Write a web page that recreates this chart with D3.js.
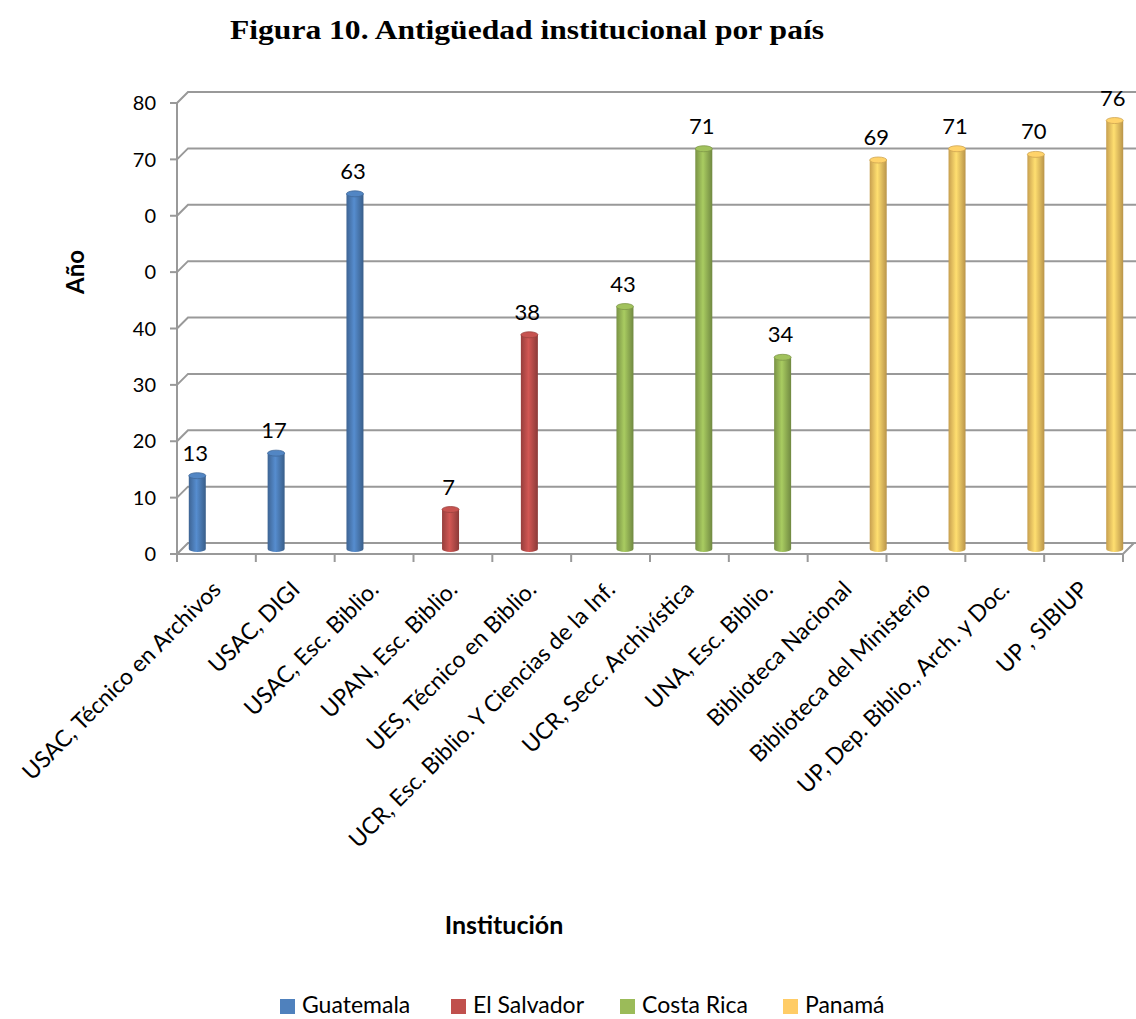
<!DOCTYPE html>
<html>
<head>
<meta charset="utf-8">
<script src="https://cdn.jsdelivr.net/npm/d3@7"></script>
<style>
  body { margin: 0; background: #fff; }
  text { font-family: Lato, "Open Sans", sans-serif; fill: #000; }
</style>
</head>
<body>
<div id="mount"></div>
<script>
'use strict';

// data
const categories = [
  'USAC, Técnico en Archivos', 'USAC, DIGI', 'USAC, Esc. Biblio.',
  'UPAN, Esc. Biblio.', 'UES, Técnico en Biblio.',
  'UCR, Esc. Biblio. Y Ciencias de la Inf.', 'UCR, Secc. Archivística', 'UNA, Esc. Biblio.',
  'Biblioteca Nacional', 'Biblioteca del Ministerio', 'UP, Dep. Biblio., Arch. y Doc.', 'UP , SIBIUP'
];
const series = ['Guatemala', 'El Salvador', 'Costa Rica', 'Panamá'];
const countryOf = [0, 0, 0, 1, 1, 2, 2, 2, 3, 3, 3, 3];
const values = [13, 17, 63, 7, 38, 43, 71, 34, 69, 71, 70, 76];
const yTicks = [0, 10, 20, 30, 40, 50, 60, 70, 80];
const yTickLabels = ['0', '10', '20', '30', '40', '0', '0', '70', '80'];
const colors = ['#4F81BD', '#C0504D', '#9BBB59', '#FFCC66'];

const W = 1136, H = 1019;
const depth = 11; // 3d offset of the back wall

const svg = d3.select('#mount').append('svg')
    .attr('width', W)
    .attr('height', H);

const x = d3.scaleBand().domain(categories).range([177, 1123]);
const sub = d3.scaleBand().domain(series).range([-33.5, 33.5]);
const y = d3.scaleLinear().domain([0, 80]).range([554, 103]);

// gradients for the cylinders
const defs = svg.append('defs');
colors.forEach((c, i) => {
  const g = defs.append('linearGradient').attr('id', 'cyl' + i)
      .attr('x1', 0).attr('x2', 1).attr('y1', 0).attr('y2', 0);
  g.append('stop').attr('offset', '0%').attr('stop-color', d3.color(c).darker(0.7));
  g.append('stop').attr('offset', '45%').attr('stop-color', d3.color(c).brighter(0.25));
  g.append('stop').attr('offset', '100%').attr('stop-color', d3.color(c).darker(0.9));
});

// title
svg.append('text')
    .attr('x', 527).attr('y', 39)
    .attr('text-anchor', 'middle')
    .attr('textLength', 594)
    .attr('lengthAdjust', 'spacingAndGlyphs')
    .style('font-family', '"Liberation Serif", "DejaVu Serif", serif')
    .style('font-weight', 'bold')
    .style('font-size', '27px')
    .text('Figura 10. Antigüedad institucional por país');

// walls and gridlines
const grid = svg.append('g').attr('stroke', '#999').attr('stroke-width', 2).attr('fill', 'none');
grid.selectAll('path.grid')
    .data(yTicks)
  .enter().append('path')
    .attr('class', 'grid')
    .attr('d', d => `M177,${y(d)}L${177 + depth},${y(d) - depth}H${W}`);

grid.append('line')
    .attr('x1', 177).attr('x2', 177)
    .attr('y1', y(80)).attr('y2', y(0));

// floor
grid.append('path')
    .attr('d', `M177,${y(0)}H1123L${1123 + depth},${y(0) - depth}`);

// y ticks
grid.selectAll('line.ytick')
    .data(yTicks)
  .enter().append('line')
    .attr('class', 'ytick')
    .attr('x1', 170).attr('x2', 177)
    .attr('y1', d => y(d)).attr('y2', d => y(d));

svg.selectAll('text.ylab')
    .data(yTicks)
  .enter().append('text')
    .attr('class', 'ylab')
    .attr('x', 156)
    .attr('y', d => y(d))
    .attr('dy', '0.36em')
    .attr('text-anchor', 'end')
    .style('font-size', '20px')
    .text((d, i) => yTickLabels[i]);

// x ticks at band edges
grid.selectAll('line.xtick')
    .data(d3.range(categories.length + 1))
  .enter().append('line')
    .attr('class', 'xtick')
    .attr('x1', i => 177 + i * x.bandwidth())
    .attr('x2', i => 177 + i * x.bandwidth())
    .attr('y1', y(0)).attr('y2', y(0) + 8);

// x labels
svg.selectAll('text.xlab')
    .data(categories)
  .enter().append('text')
    .attr('class', 'xlab')
    .attr('transform', d => `translate(${x(d) + x.bandwidth() / 2 + 6},${y(0) + 37}) rotate(-45)`)
    .attr('text-anchor', 'end')
    .style('font-size', '23px')
    .text(d => d);

// cylinders
const barW = 17, ry = 3;
const bars = categories.map((c, i) => ({
  cat: c, value: values[i], s: countryOf[i],
  cx: x(c) + x.bandwidth() / 2 + sub(series[countryOf[i]]) + sub.bandwidth() / 2 + 6
}));
const base = y(0) - 5;
const yBar = v => y(v) - 5;

const cyl = svg.selectAll('g.cyl')
    .data(bars)
  .enter().append('g')
    .attr('class', 'cyl');

cyl.append('path')
    .attr('d', d => `M${d.cx - barW / 2},${yBar(d.value)}V${base}` +
      `A${barW / 2},${ry} 0 0 0 ${d.cx + barW / 2},${base}V${yBar(d.value)}Z`)
    .attr('fill', d => `url(#cyl${d.s})`);

cyl.append('ellipse')
    .attr('cx', d => d.cx)
    .attr('cy', d => yBar(d.value))
    .attr('rx', barW / 2)
    .attr('ry', ry)
    .attr('fill', d => d3.color(colors[d.s]).brighter(0.1))
    .attr('stroke', d => d3.color(colors[d.s]).darker(0.6))
    .attr('stroke-width', 0.8);

// data labels
svg.selectAll('text.vlab')
    .data(bars)
  .enter().append('text')
    .attr('class', 'vlab')
    .attr('x', d => d.cx - 2)
    .attr('y', d => yBar(d.value) - 15)
    .attr('text-anchor', 'middle')
    .style('font-size', '22px')
    .text(d => d.value);

// axis titles
svg.append('text')
    .attr('transform', 'translate(84,272) rotate(-90)')
    .attr('text-anchor', 'middle')
    .style('font-weight', 'bold')
    .style('font-size', '24px')
    .text('Año');

svg.append('text')
    .attr('x', 504).attr('y', 934)
    .attr('text-anchor', 'middle')
    .style('font-weight', 'bold')
    .style('font-size', '25px')
    .text('Institución');

// legend
const legendX = [280, 451, 620, 783];
const legend = svg.selectAll('g.legend')
    .data(series)
  .enter().append('g')
    .attr('class', 'legend')
    .attr('transform', (d, i) => `translate(${legendX[i]},999)`);

legend.append('rect')
    .attr('width', 15).attr('height', 15)
    .attr('fill', (d, i) => colors[i]);

legend.append('text')
    .attr('x', 22).attr('y', 14)
    .style('font-size', '23px')
    .text(d => d);
</script>
</body>
</html>
